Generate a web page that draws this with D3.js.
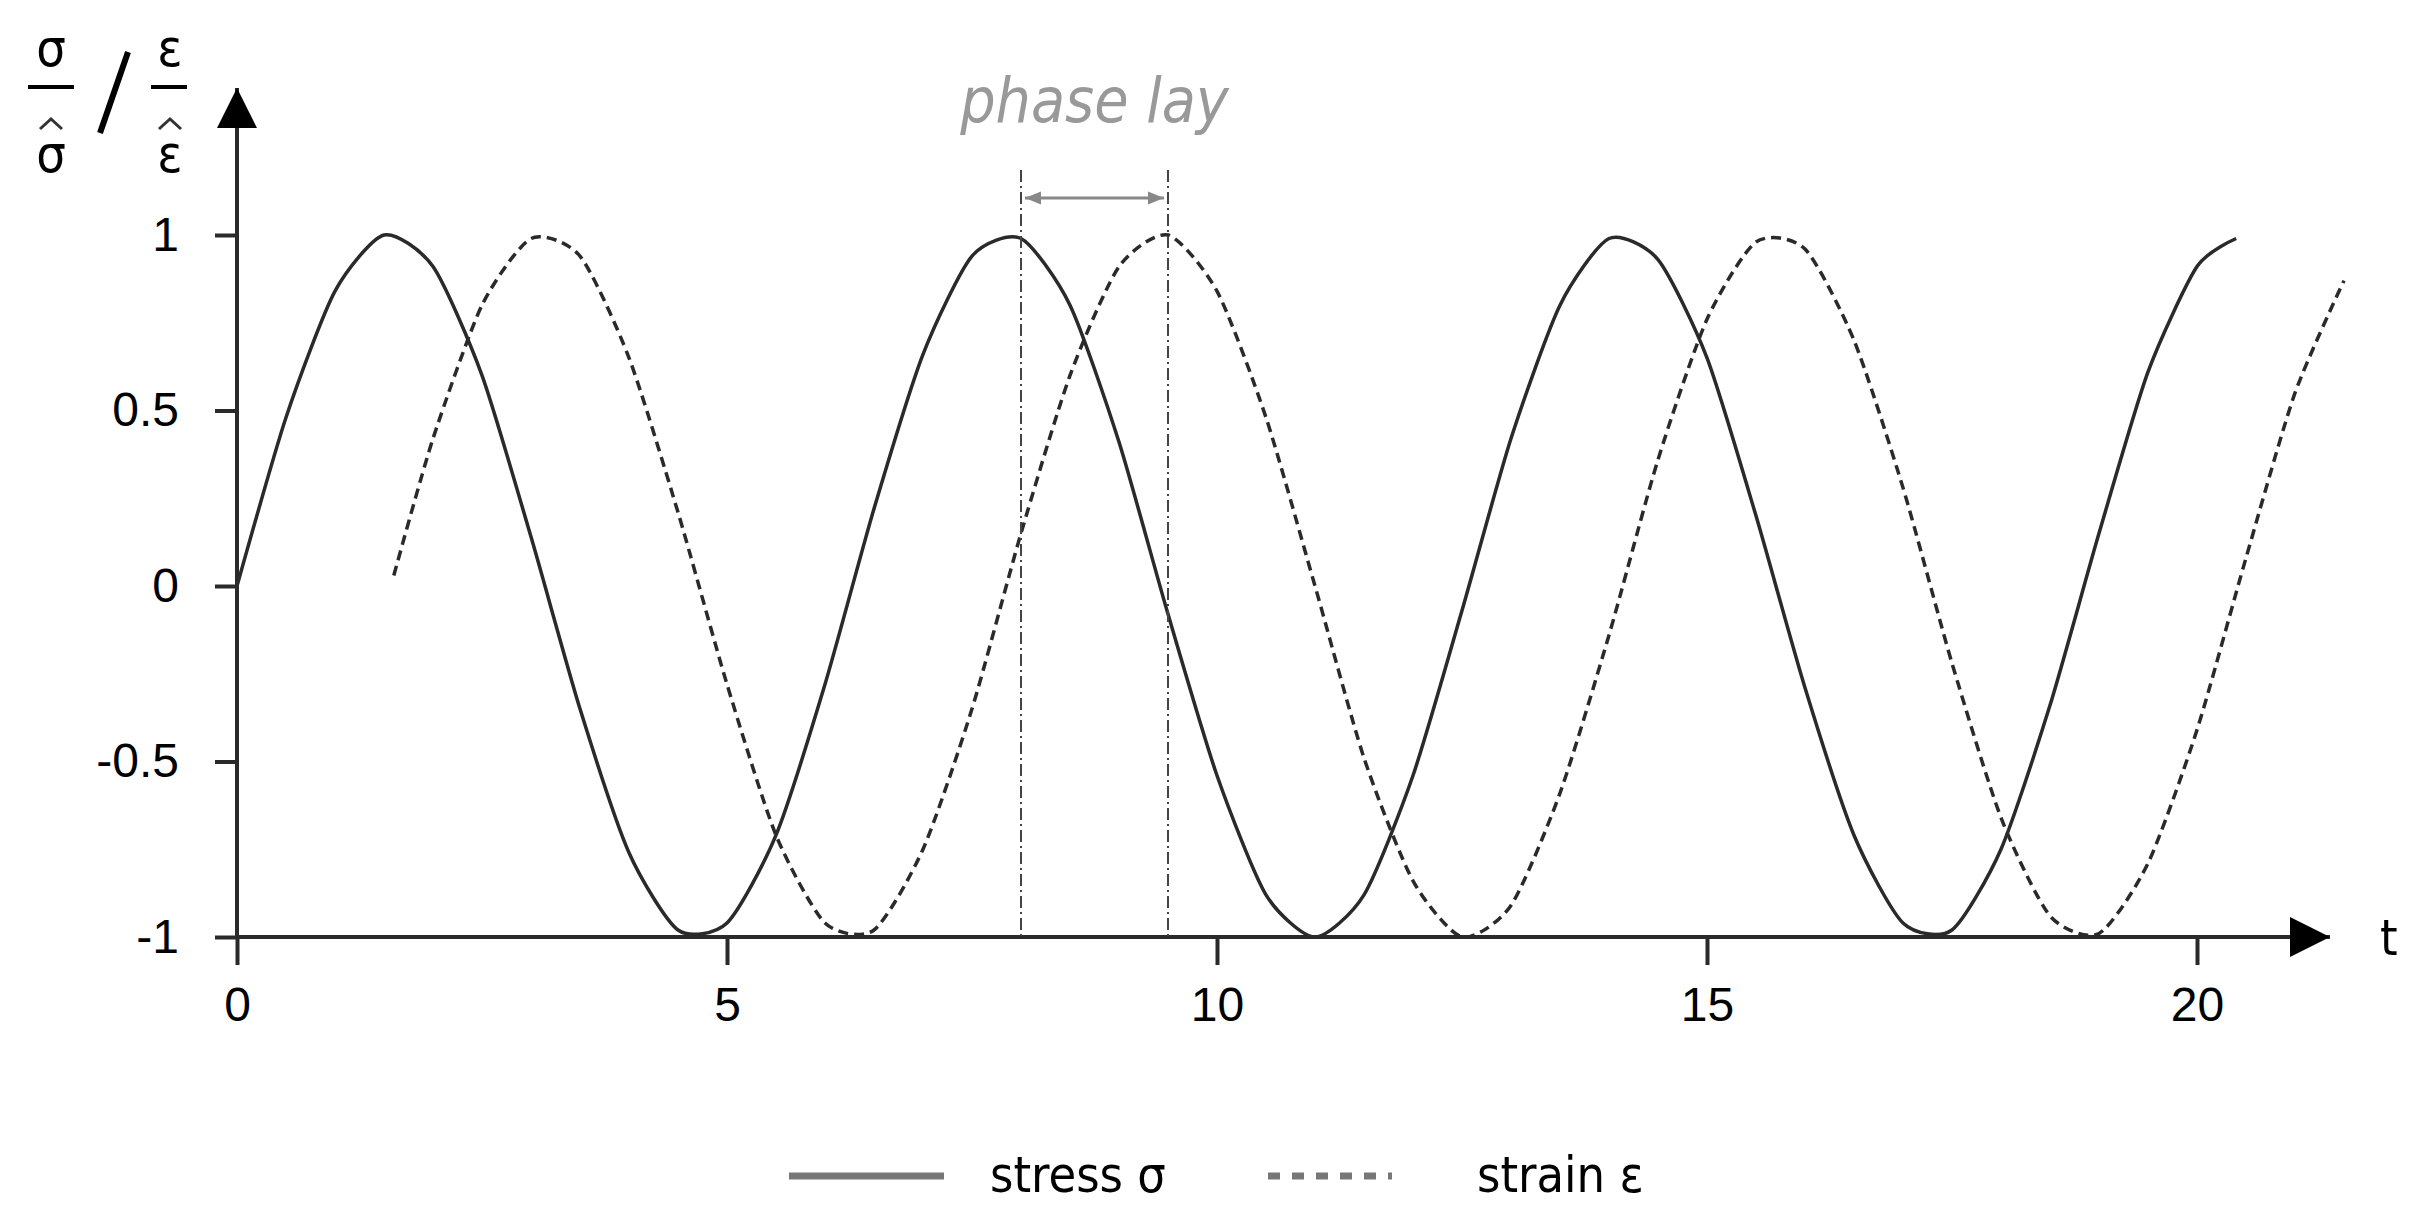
<!DOCTYPE html>
<html><head><meta charset="utf-8">
<script src="https://cdn.jsdelivr.net/npm/d3@7"></script>
<style>body{margin:0;background:#fff}svg{font-family:"Liberation Sans Narrow","DejaVu Sans Condensed","Liberation Sans",sans-serif}</style>
</head><body><svg id="c" width="2414" height="1217"></svg>
<script>
// values
var stressT = [0,0.5,1,1.5,2,2.5,3,3.5,4,4.5,5,5.5,6,6.5,7,7.5,8,8.5,9,9.5,10,10.5,11,11.5,12,12.5,13,13.5,14,14.5,15,15.5,16,16.5,17,17.5,18,18.5,19,19.5,20,20.4];
var stressV = [0,.48,.84,1,.91,.6,.14,-.35,-.76,-.98,-.96,-.71,-.28,.22,.66,.94,.99,.8,.41,-.08,-.54,-.88,-1,-.88,-.54,-.07,.42,.8,.99,.93,.65,.2,-.29,-.71,-.96,-.98,-.75,-.34,.15,.61,.91,.99];
var strainT = [1.6,2,2.5,3,3.5,4,4.5,5,5.5,6,6.5,7,7.5,8,8.5,9,9.5,10,10.5,11,11.5,12,12.5,13,13.5,14,14.5,15,15.5,16,16.5,17,17.5,18,18.5,19,19.5,20,20.5,21,21.5];
var strainV = [.03,.42,.8,.99,.94,.65,.21,-.28,-.71,-.96,-.98,-.75,-.35,.15,.6,.91,1,.84,.48,0,-.49,-.84,-1,-.91,-.59,-.14,.36,.76,.98,.96,.7,.28,-.22,-.66,-.94,-.99,-.79,-.41,.08,.55,.87];
var xTicks = [0,5,10,15,20];
var yTicks = [-1,-0.5,0,0.5,1];
var lagStart = 8.0, lagEnd = 9.5;

var svg = d3.select("#c");
var x = d3.scaleLinear().domain([0,20]).range([237,2197]);
var y = d3.scaleLinear().domain([-1,1]).range([937,235]);
var ink = "#2a2a2a";
var defs = svg.append("defs");

var big = defs.append("marker").attr("id","ab").attr("viewBox","0 0 10 10")
  .attr("refX",10).attr("refY",5).attr("markerWidth",40).attr("markerHeight",40)
  .attr("markerUnits","userSpaceOnUse").attr("orient","auto");
big.append("path").attr("d","M0,0L10,5L0,10z").attr("fill","#000");
var gm = defs.append("marker").attr("id","ag").attr("viewBox","0 0 10 10")
  .attr("refX",10).attr("refY",5).attr("markerWidth",16).attr("markerHeight",16)
  .attr("markerUnits","userSpaceOnUse").attr("orient","auto-start-reverse");
gm.append("path").attr("d","M0,1L10,5L0,9z").attr("fill","#888");

// axes
svg.append("line").attr("x1",x(0)).attr("x2",2330).attr("y1",y(-1)).attr("y2",y(-1))
  .attr("stroke",ink).attr("stroke-width",4).attr("marker-end","url(#ab)");
svg.append("line").attr("x1",x(0)).attr("x2",x(0)).attr("y1",y(-1)).attr("y2",88)
  .attr("stroke",ink).attr("stroke-width",4).attr("marker-end","url(#ab)");

var xa = svg.append("g").attr("transform","translate(0,"+y(-1)+")")
  .call(d3.axisBottom(x).tickValues(xTicks).tickSize(28).tickPadding(22).tickFormat(d3.format("d")));
var ya = svg.append("g").attr("transform","translate("+x(0)+",0)")
  .call(d3.axisLeft(y).tickValues(yTicks).tickSize(22).tickPadding(36).tickFormat(function(d){return d===0?"0":String(d);}));
[xa,ya].forEach(function(a){
  a.select(".domain").remove();
  a.selectAll(".tick line").attr("stroke",ink).attr("stroke-width",4);
  a.selectAll(".tick text").attr("font-size",48).attr("fill","#000");
});

svg.append("text").attr("x",2380).attr("y",955).attr("font-size",50).text("t");

// y label: σ/σ̂ / ε/ε̂
var lab = svg.append("g").attr("font-size",52).attr("text-anchor","middle");
lab.append("text").attr("x",51).attr("y",66).text("σ");
lab.append("line").attr("x1",28).attr("x2",74).attr("y1",87).attr("y2",87).attr("stroke","#000").attr("stroke-width",4);
lab.append("text").attr("x",51).attr("y",172).text("σ");
lab.append("path").attr("d","M40,129L51,119L62,129").attr("fill","none").attr("stroke","#333").attr("stroke-width",3);
lab.append("line").attr("x1",100).attr("x2",128).attr("y1",133).attr("y2",52).attr("stroke","#000").attr("stroke-width",6);
lab.append("text").attr("x",170).attr("y",66).text("ε");
lab.append("line").attr("x1",151).attr("x2",187).attr("y1",87).attr("y2",87).attr("stroke","#000").attr("stroke-width",4);
lab.append("text").attr("x",170).attr("y",172).text("ε");
lab.append("path").attr("d","M159,129L170,119L181,129").attr("fill","none").attr("stroke","#333").attr("stroke-width",3);

// curves
var line = d3.line().x(function(d){return x(d[0]);}).y(function(d){return y(d[1]);}).curve(d3.curveCardinal.tension(0.3));
svg.append("path").datum(d3.zip(stressT,stressV)).attr("d",line)
  .attr("fill","none").attr("stroke",ink).attr("stroke-width",3.5);
svg.append("path").datum(d3.zip(strainT,strainV)).attr("d",line)
  .attr("fill","none").attr("stroke",ink).attr("stroke-width",3.5).attr("stroke-dasharray","10,6");

// phase lag
[lagStart,lagEnd].forEach(function(t){
  svg.append("line").attr("x1",x(t)).attr("x2",x(t)).attr("y1",170).attr("y2",y(-1))
    .attr("stroke","#444").attr("stroke-width",2).attr("stroke-dasharray","12,4,2,4");
});
svg.append("line").attr("x1",x(lagStart)+4).attr("x2",x(lagEnd)-4).attr("y1",198).attr("y2",198)
  .attr("stroke","#888").attr("stroke-width",3).attr("marker-start","url(#ag)").attr("marker-end","url(#ag)");
svg.append("text").attr("x",(x(lagStart)+x(lagEnd))/2).attr("y",122).attr("text-anchor","middle")
  .attr("font-size",62).attr("font-style","italic").attr("fill","#999").text("phase lay");

// legend
var lg = svg.append("g").attr("font-size",50);
lg.append("line").attr("x1",789).attr("x2",944).attr("y1",1176).attr("y2",1176).attr("stroke","#777").attr("stroke-width",7);
lg.append("text").attr("x",990).attr("y",1192).text("stress σ");
lg.append("line").attr("x1",1268).attr("x2",1392).attr("y1",1176).attr("y2",1176).attr("stroke","#777").attr("stroke-width",7).attr("stroke-dasharray","12,12");
lg.append("text").attr("x",1477).attr("y",1192).text("strain ε");
</script></body></html>
